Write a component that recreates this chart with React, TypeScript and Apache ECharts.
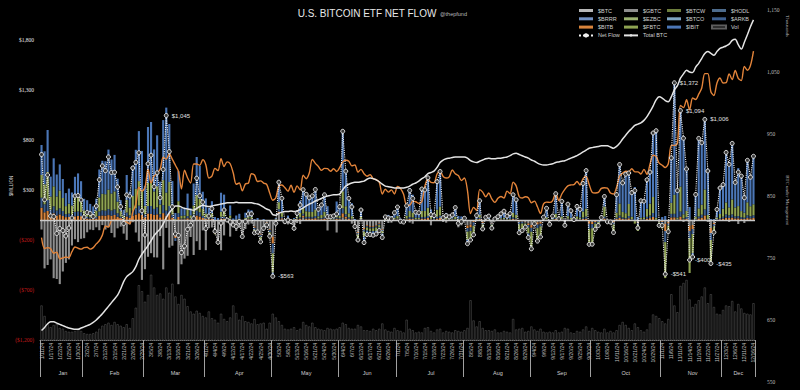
import React, { useEffect, useRef } from 'react';
import * as echarts from 'echarts';

// ---------- categories ----------
const MONTH_NAMES = ['Jan', 'Feb', 'Mar', 'Apr', 'May', 'Jun', 'Jul', 'Aug', 'Sep', 'Oct', 'Nov', 'Dec'];
const MONTH_DAYS: number[][] = [
  [11, 12, 16, 17, 18, 19, 22, 23, 24, 25, 26, 29, 30, 31],
  [1, 2, 5, 6, 7, 8, 9, 12, 13, 14, 15, 16, 20, 21, 22, 23, 26, 27, 28, 29],
  [1, 4, 5, 6, 7, 8, 11, 12, 13, 14, 15, 18, 19, 20, 21, 22, 25, 26, 27, 28],
  [1, 2, 3, 4, 5, 8, 9, 10, 11, 12, 15, 16, 17, 18, 19, 22, 23, 24, 25, 26, 29, 30],
  [1, 2, 3, 6, 7, 8, 9, 10, 13, 14, 15, 16, 17, 20, 21, 22, 23, 24, 28, 29, 30, 31],
  [3, 4, 5, 6, 7, 10, 11, 12, 13, 14, 17, 18, 20, 21, 24, 25, 26, 27, 28],
  [1, 2, 3, 5, 8, 9, 10, 11, 12, 15, 16, 17, 18, 19, 22, 23, 24, 25, 26, 29, 30, 31],
  [1, 2, 5, 6, 7, 8, 9, 12, 13, 14, 15, 16, 19, 20, 21, 22, 23, 26, 27, 28, 29, 30],
  [3, 4, 5, 6, 9, 10, 11, 12, 13, 16, 17, 18, 19, 20, 23, 24, 25, 26, 27, 30],
  [1, 2, 3, 4, 7, 8, 9, 10, 11, 14, 15, 16, 17, 18, 21, 22, 23, 24, 25, 28, 29, 30, 31],
  [1, 4, 5, 6, 7, 8, 11, 12, 13, 14, 15, 18, 19, 20, 21, 22, 25, 26, 27, 29],
  [2, 3, 4, 5, 6, 9, 10, 11, 12, 13, 16],
];

// ---------- series values ($M per day) ----------
const NET_FLOW = [
  655, 203, 450, 40, 35, -135, -85, -105, -160, -80, 20, 240, 245, 200,
  30, 75, 65, 35, 140, 403, 541, 493, 631, 475, 477, 330, 133, -35, 251, 240, 520, 577, 673, 92,
  -150, 562, 648, 333, 472, 223, 505, 1045, 684, 132, -140, -154, -326, -261, -94, -53, 15, 418, 243, 179,
  -86, 40, 113, -113, -223, -30, 100, 0, -20, -50, -65, -17, -165, -17, 60, 62, -128, -120, -218, -83, -50, -162,
  -563, -33, 378, 217, -17, 0, -17, -83, 67, 150, 303, 257, 222, 241, 305, 107, 150, 252, 33, 33, 40, 60,
  133, 887, 488, 217, 131, -65, -200, 100, -226, -145, -145, -152, -140, -106, -175, 31, 21, 12, 73,
  129, -13, -20, 143, 295, 216, 78, 73, 310, 301, 422, 53, 44, 383, 485, 22, 44, 31, 50, 124, -33, -17,
  17, -237, -200, -148, 45, 192, -89, 27, 39, -81, 11, 33, 62, 88, 39, 64, 252, 202, -127, -105, -71, -175,
  -288, -37, -211, -169, 28, 117, -43, 39, 263, 12, 187, -53, 158, 92, 4, 136, 106, 365, 494, -243,
  -242, -92, -55, 25, 235, -18, -20, -125, 253, 555, 371, 458, 470, 273, 294, -79, 192, 188, 402, 479, 870, 893, -54,
  -55, -541, -116, 621, 1372, 294, 1094, 817, 510, -400, -370, 255, 816, 773, 1006, 490, -435, -123, 105, 320,
  353, 676, 556, 766, 376, 479, 439, 223, 597, 428, 637,
];

const GBTC = [
  -95, -484, -450, -394, -582, -590, -641, -515, -429, -394, -255, -192, -221, -188,
  -182, -123, -96, -101, -73, -102, -51, -95, -73, -130, -174, -83, -66, -136, -199, -44, -22, -125, -216, -599,
  -492, -368, -332, -373, -375, -161, -494, -79, -276, -257, -139, -642, -443, -386, -358, -170, -350, -212, -299, -104,
  -302, -81, -75, -133, -200, -303, -154, -18, -166, -50, -110, -79, -130, -90, -45, -35, -66, -130, -139, -82, -25, -94,
  -167, -54, 63, 4, 0, -44, 0, -103, -30, -40, 27, 0, 0, 0, 0, 0, 0, 0, -105, 0, 0, -125,
  0, 28, 15, 0, -37, -40, -121, 0, -80, -52, -62, -62, -54, -34, -90, 0, -30, -27, 0,
  0, -28, 0, 0, -25, -37, 0, 0, 0, 0, 0, -53, 0, 0, 0, -20, -27, 0, 0, 0, -73, -53,
  0, -55, -47, 0, 0, 0, -18, 0, 0, -30, 0, 0, 0, 0, 0, 0, 0, 0, 0, 0, -20, -35,
  -50, 0, -23, -20, 0, 0, -10, 0, 0, 0, 0, -20, 0, 0, 0, 0, 0, 0, 0, -10,
  -20, -10, 0, 0, 0, 0, 0, -10, 0, -10, 0, 0, 0, 0, 0, -20, 0, 0, 0, 0, 0, 0, -10,
  -10, -40, -20, 0, 0, 0, 0, -20, 0, -60, -50, 0, 0, 0, 0, -20, -80, -30, 0, 0,
  0, 0, -20, 0, 0, -40, -10, -30, 0, -10, 0,
];

const IBIT = [
  300, 330, 420, 200, 280, 220, 260, 190, 130, 150, 130, 210, 230, 190,
  115, 110, 90, 75, 120, 280, 330, 330, 400, 340, 365, 230, 110, 55, 250, 160, 300, 390, 500, 390,
  200, 560, 600, 420, 510, 230, 600, 850, 580, 240, 60, 300, 75, 80, 160, 70, 220, 380, 330, 170,
  150, 80, 120, 30, 20, 190, 170, 20, 100, 15, 40, 50, 0, 50, 70, 65, 10, 20, 0, 10, 0, 0,
  -37, 10, 200, 140, -10, 30, -10, 10, 60, 120, 180, 170, 140, 160, 200, 70, 100, 170, 90, 20, 25, 120,
  90, 600, 350, 150, 130, 10, -20, 70, -60, -40, -30, -40, -30, -30, -40, 20, 35, 25, 50,
  90, 10, -10, 100, 230, 180, 55, 50, 220, 210, 300, 75, 30, 280, 350, 30, 50, 22, 35, 90, 28, 25,
  20, -40, -20, -20, 35, 140, -10, 20, 30, -10, 10, 25, 45, 65, 30, 50, 180, 150, -30, -20, -10, -40,
  -20, 0, -10, -20, 20, 90, 0, 30, 200, 10, 150, -5, 120, 70, 5, 100, 80, 280, 380, -10,
  -10, 0, 0, 20, 100, 0, 0, -10, 180, 400, 290, 390, 310, 240, 330, 30, 170, 160, 290, 315, 640, 870, 10,
  30, 40, 0, 450, 1120, 270, 760, 780, 420, 130, -40, 220, 700, 620, 700, 460, 10, 10, 80, 260,
  240, 500, 450, 560, 250, 380, 360, 180, 420, 300, 480,
];

const FBTC = [
  227, 200, 280, 130, 200, 140, 180, 130, 80, 100, 90, 140, 150, 120,
  60, 55, 45, 38, 60, 140, 165, 165, 195, 170, 180, 115, 55, 28, 125, 78, 150, 195, 245, 190,
  85, 230, 240, 175, 210, 95, 250, 180, 240, 95, 10, 120, 28, 30, 65, 30, 90, 155, 135, 70,
  40, 25, 40, -5, -25, 50, 50, 0, 30, -10, 5, 8, -20, 15, 20, 20, -40, -5, -50, -6, -15, -40,
  -191, 6, 70, 45, -5, 10, -5, 6, 22, 42, 60, 55, 50, 50, 65, 22, 30, 50, 30, 8, 10, 40,
  25, 170, 80, 40, 25, -20, -35, 20, -50, -30, -30, -30, -35, -25, -25, 7, 10, 8, 15,
  25, 3, -6, 28, 60, 48, 15, 15, 60, 60, 80, 20, 9, 70, 90, 8, 14, 6, 10, 24, 8, 7,
  -3, -80, -70, -70, 6, 30, -35, 4, 5, -25, 0, 5, 10, 14, 6, 9, 45, 35, -55, -50, -25, -60,
  -150, -25, -120, -85, 5, 18, -20, 6, 40, 2, 25, -18, 25, 15, 0, 25, 18, 60, 80, -145,
  -150, -55, -35, 3, 100, -12, -12, -70, 50, 120, 55, 50, 120, 25, -25, -60, 15, 20, 80, 120, 160, 20, -40,
  -50, -360, -60, 110, 190, 15, 250, 40, 60, -350, -190, 25, 80, 100, 200, 40, -245, -70, 15, 40,
  80, 120, 80, 150, 90, 100, 60, 50, 130, 100, 110,
];

const ARKB = [
  100, 80, 110, 50, 70, 50, 60, 50, 30, 34, 30, 45, 46, 40,
  20, 18, 14, 12, 18, 45, 52, 50, 60, 52, 56, 36, 18, 10, 40, 25, 50, 62, 76, 60,
  30, 75, 80, 60, 70, 32, 80, 50, 75, 30, -30, 38, 8, 8, 22, 9, 30, 50, 42, 23,
  14, 8, 15, 0, -10, 18, 20, -2, 10, -3, 0, 2, -10, 5, 8, 7, -20, -3, -20, -3, -5, -20,
  -99, 3, 25, 15, -1, 2, -1, 2, 8, 15, 20, 18, 17, 17, 22, 8, 11, 17, 10, 3, 3, 13,
  10, 50, 25, 15, 8, -8, -14, 5, -20, -13, -13, -12, -12, -10, -12, 2, 3, 3, 4,
  8, 1, -2, 8, 17, 14, 5, 4, 16, 17, 22, 6, 3, 18, 25, 2, 4, 2, 3, 6, 2, 2,
  0, -35, -35, -35, 2, 12, -15, 2, 2, -10, 1, 2, 4, 5, 2, 3, 15, 10, -25, -20, -10, -25,
  -40, -7, -35, -27, 2, 5, -8, 2, 13, 0, 7, -6, 8, 4, -1, 6, 5, 15, 20, -50,
  -40, -15, -12, 1, 20, -3, -5, -20, 13, 25, 14, 10, 23, 5, -6, -17, 4, 5, 18, 25, 40, 2, -8,
  -15, -110, -20, 35, 35, 5, 50, 10, 20, -70, -50, 6, 20, 30, 60, 6, -70, -20, 6, 12,
  18, 33, 26, 32, 20, 22, 17, 13, 28, 22, 27,
];

const BITB = [
  123, 77, 90, 54, 67, 45, 56, 40, 29, 30, 25, 37, 40, 38,
  17, 15, 12, 11, 15, 40, 45, 43, 49, 43, 50, 32, 16, 8, 35, 21, 42, 55, 68, 51,
  27, 65, 60, 51, 57, 27, 69, 44, 65, 24, -41, 30, 6, 7, 17, 8, 25, 45, 35, 20,
  12, 8, 13, -5, -8, 15, 14, 0, 6, -2, 0, 2, -5, 3, 7, 5, -12, -2, -9, -2, -5, -8,
  -69, 2, 20, 13, -1, 2, -1, 2, 7, 13, 16, 14, 15, 14, 18, 7, 9, 15, 8, 2, 2, 12,
  8, 39, 18, 12, 5, -7, -10, 5, -16, -10, -10, -8, -9, -7, -8, 2, 3, 3, 4,
  6, 1, -2, 7, 13, 11, 3, 4, 14, 14, 20, 5, 2, 15, 20, 2, 3, 1, 2, 4, 2, 2,
  0, -27, -28, -23, 2, 10, -11, 1, 2, -6, 0, 1, 3, 4, 1, 2, 12, 7, -17, -15, -6, -15,
  -28, -5, -23, -17, 1, 4, -5, 1, 10, 0, 5, -4, 5, 3, 0, 5, 3, 10, 14, -28,
  -22, -12, -8, 1, 15, -3, -3, -15, 10, 20, 12, 8, 17, 3, -5, -12, 3, 3, 14, 19, 30, 1, -6,
  -10, -71, -16, 26, 27, 4, 34, 7, 10, -50, -40, 4, 16, 23, 46, 4, -50, -13, 4, 8,
  15, 23, 20, 24, 16, 17, 12, 10, 19, 16, 20,
];

// small funds: too small to be visible in the picture
const BTC_MINI: number[] = [];
const BTCW: number[] = [];
const HODL: number[] = [];
const BRRR: number[] = [];
const EZBC: number[] = [];
const BTCO: number[] = [];

// trading volume ($B)
const VOLUME = [
  4.6, 3.2, 2.1, 1.7, 2.0, 2.1, 1.6, 1.5, 1.2, 1.1, 1.1, 1.2, 1.5, 1.2,
  0.9, 0.8, 0.8, 0.9, 1.1, 1.5, 1.9, 2.1, 2.3, 2.0, 2.4, 2.1, 1.9, 1.7, 2.1, 1.6, 2.9, 4.3, 7.3, 6.5,
  5.1, 6.0, 8.7, 7.0, 6.0, 6.2, 5.5, 7.0, 6.3, 7.5, 5.8, 4.8, 6.0, 5.5, 4.5, 3.8, 3.5, 3.9, 3.6, 3.2,
  3.0, 3.8, 2.9, 2.7, 2.3, 3.5, 2.8, 2.5, 3.0, 4.6, 3.6, 2.7, 3.2, 2.5, 2.4, 2.2, 2.8, 2.1, 2.2, 2.3, 1.5, 2.3,
  3.5, 3.0, 2.5, 2.0, 1.5, 1.4, 1.5, 1.7, 1.3, 1.5, 2.4, 2.0, 1.8, 2.3, 1.7, 1.5, 1.4, 1.3, 1.6, 1.5, 1.4, 1.5,
  1.7, 2.3, 2.1, 1.6, 1.5, 1.5, 2.0, 1.8, 1.3, 1.3, 1.2, 1.5, 1.3, 1.5, 2.2, 1.4, 1.2, 1.1, 1.6,
  1.3, 1.2, 1.0, 2.7, 1.5, 1.3, 1.0, 1.1, 1.0, 1.6, 1.7, 1.2, 1.0, 1.4, 1.5, 1.0, 1.2, 1.1, 1.0, 1.3, 1.2, 1.1,
  1.3, 1.6, 5.3, 2.6, 1.8, 2.5, 1.6, 1.3, 1.3, 1.2, 1.4, 1.0, 1.0, 1.2, 1.1, 1.0, 2.8, 1.4, 1.5, 1.6, 1.1, 1.2,
  1.8, 1.4, 1.2, 1.5, 1.1, 1.0, 1.1, 1.0, 1.3, 1.0, 1.1, 1.6, 1.5, 1.0, 0.9, 1.2, 1.1, 1.4, 1.8, 1.2,
  1.6, 1.3, 1.1, 1.0, 1.5, 1.0, 1.2, 1.0, 1.3, 2.0, 2.4, 2.0, 1.6, 1.3, 2.2, 1.7, 1.3, 1.1, 1.4, 2.2, 3.4, 3.2, 2.9,
  2.5, 2.2, 2.8, 6.1, 4.6, 3.7, 7.2, 7.6, 8.0, 5.4, 4.4, 4.8, 5.3, 5.8, 7.0, 4.9, 6.1, 4.4, 3.5, 3.4,
  4.0, 4.6, 4.5, 5.2, 3.8, 4.8, 4.2, 3.6, 3.5, 3.4, 4.9,
];

// BTC under management (thousands)
const TOTAL_BTC = [
  633, 638, 644, 647, 647, 645, 643, 641, 639, 637, 636, 635, 635, 637,
  639, 641, 643, 646, 650, 655, 660, 666, 672, 678, 684, 690, 700, 712, 720, 724, 728, 736, 748, 756,
  763, 770, 778, 786, 792, 797, 805, 815, 823, 829, 834, 834, 832, 830, 829, 828, 827, 830, 833, 835,
  834, 833, 834, 835, 836, 837, 838, 839, 839, 839, 840, 839, 839, 839, 839, 839, 838, 837, 835, 832, 829, 827,
  820, 819, 822, 824, 825, 825, 826, 825, 826, 828, 831, 834, 837, 839, 842, 844, 846, 849, 850, 851, 852, 852,
  853, 860, 866, 869, 871, 872, 872, 873, 874, 877, 879, 878, 876, 873, 869, 866, 865, 864, 863,
  863, 863, 863, 864, 866, 869, 871, 874, 878, 881, 886, 888, 890, 896, 904, 908, 910, 911, 912, 913, 913, 913,
  913, 911, 907, 905, 904, 906, 908, 910, 911, 910, 910, 911, 911, 912, 913, 915, 918, 919, 917, 915, 913, 911,
  908, 906, 903, 901, 900, 900, 901, 902, 904, 905, 906, 907, 909, 911, 913, 915, 918, 921, 924, 927,
  928, 929, 930, 931, 931, 931, 929, 927, 930, 935, 942, 948, 954, 959, 964, 966, 968, 972, 978, 986, 995, 1005, 1010,
  1008, 1004, 1002, 1010, 1021, 1028, 1040, 1047, 1053, 1050, 1049, 1058, 1064, 1072, 1080, 1083, 1080, 1077, 1083, 1088,
  1090, 1092, 1095, 1101, 1103, 1094, 1087, 1098, 1110, 1123, 1134,
];

// Bitcoin price ($K)
const BTC_PRICE = [
  46.3, 42.8, 43.1, 42.7, 41.3, 41.6, 39.5, 39.8, 40.1, 39.9, 41.8, 43.3, 42.9, 42.6,
  43.1, 43.2, 42.6, 43.1, 44.3, 45.3, 47.1, 50.0, 49.7, 51.8, 52.0, 52.1, 52.3, 51.8, 51.3, 50.7, 54.5, 57.1, 62.5, 61.2,
  62.4, 68.3, 63.8, 66.1, 66.9, 68.3, 72.1, 71.5, 73.1, 71.4, 69.5, 67.6, 61.9, 67.9, 65.5, 63.8, 69.9, 69.9, 69.5, 71.3,
  69.7, 65.4, 66.0, 68.5, 67.8, 71.6, 69.1, 70.6, 70.0, 67.1, 63.4, 63.8, 61.3, 63.5, 63.8, 66.8, 66.4, 64.3, 64.5, 63.8, 63.4, 60.6,
  58.3, 59.1, 62.9, 63.2, 62.3, 61.2, 63.1, 60.8, 62.9, 61.6, 66.3, 65.2, 67.0, 71.4, 70.1, 69.1, 67.9, 68.5, 68.4, 67.6, 68.4, 67.5,
  68.8, 70.6, 71.1, 70.8, 69.3, 69.6, 67.3, 68.2, 66.8, 66.0, 66.5, 65.2, 64.9, 64.1, 60.3, 61.8, 60.9, 61.6, 60.3,
  62.7, 62.0, 60.2, 56.7, 56.7, 58.0, 57.8, 57.3, 57.9, 62.9, 65.1, 64.0, 63.9, 66.7, 67.6, 65.9, 65.4, 65.8, 68.0, 66.8, 66.2, 64.6,
  65.4, 61.4, 54.0, 56.0, 55.0, 61.7, 60.9, 59.4, 60.6, 58.7, 57.6, 58.9, 59.5, 59.0, 61.2, 60.4, 64.1, 62.9, 59.5, 59.0, 59.4, 59.1,
  57.5, 58.0, 56.2, 54.0, 57.1, 57.7, 57.6, 58.2, 60.6, 58.2, 60.3, 61.8, 62.9, 63.2, 63.3, 64.3, 63.2, 65.2, 65.9, 63.3,
  60.8, 60.6, 60.8, 62.1, 62.3, 62.2, 60.6, 60.3, 62.4, 66.0, 67.0, 67.6, 67.4, 68.4, 67.4, 67.4, 66.7, 68.2, 66.6, 69.9, 72.7, 72.3, 70.2,
  69.5, 68.8, 70.0, 75.9, 75.9, 76.5, 88.7, 88.0, 90.5, 87.3, 91.1, 90.6, 92.3, 94.3, 98.9, 98.9, 93.1, 91.9, 95.9, 97.5,
  95.9, 96.0, 98.8, 97.0, 99.9, 97.4, 96.7, 101.2, 100.0, 101.5, 106.1,
];

// indices of net-flow points carrying a value label
const ANNOTATED = [41, 76, 205, 208, 210, 213, 218, 220];

const FONT = 'Liberation Sans';
const SERIF = 'Liberation Serif';

function fmtMoney(v: number): string {
  const s = Math.abs(v).toLocaleString('en-US');
  return v < 0 ? `-$${s}` : `$${s}`;
}

export default function App() {
  const ref = useRef<HTMLDivElement>(null);

  useEffect(() => {
    if (!ref.current) return;
    const chart = echarts.init(ref.current, null, { renderer: 'svg' });

    const dates: string[] = [];
    const monthStart: number[] = [];
    const monthMid: number[] = [];
    MONTH_DAYS.forEach((days, m) => {
      monthStart.push(dates.length);
      monthMid.push(dates.length + Math.floor(days.length / 2));
      days.forEach((d) => dates.push(`${m + 1}/${d}/24`));
    });

    const netData = NET_FLOW.map((v, i) =>
      ANNOTATED.includes(i)
        ? {
            value: v,
            label: {
              show: true,
              position: 'right',
              distance: 3,
              formatter: () => fmtMoney(v),
              color: '#e0e0e0',
              fontSize: 6,
              fontFamily: FONT,
            },
          }
        : v
    );

    const barBase = (name: string, data: number[], color: string) => ({
      name,
      type: 'bar',
      stack: 'flow',
      xAxisIndex: 0,
      yAxisIndex: 0,
      data,
      itemStyle: { color },
      barCategoryGap: '30%',
      z: 2,
    });

    const legendCommon = {
      orient: 'vertical',
      top: 7.5,
      itemWidth: 14,
      itemHeight: 3,
      itemGap: 2.3,
      selectedMode: false,
      padding: 0,
      textStyle: { color: '#cfcfcf', fontSize: 5.5, fontFamily: FONT, lineHeight: 6 },
    };

    const option: any = {
      animation: false,
      backgroundColor: '#000',
      textStyle: { fontFamily: FONT },
      legend: [
        { ...legendCommon, left: 578, data: [{ name: '$BTC', icon: 'rect' }, { name: '$BRRR', icon: 'rect' }, { name: '$BITB', icon: 'rect' }, { name: 'Net Flow' }] },
        { ...legendCommon, left: 623, data: [{ name: '$GBTC', icon: 'rect' }, { name: '$EZBC', icon: 'rect' }, { name: '$FBTC', icon: 'rect' }, { name: 'Total BTC' }] },
        { ...legendCommon, left: 667, data: [{ name: '$BTCW', icon: 'rect' }, { name: '$BTCO', icon: 'rect' }, { name: '$IBIT', icon: 'rect' }] },
        { ...legendCommon, left: 711, data: [{ name: '$HODL', icon: 'rect' }, { name: '$ARKB', icon: 'rect' }, { name: 'Vol', icon: 'rect' }] },
      ],
      grid: [
        { left: 40, right: 45, top: 40, height: 300 },
        { left: 40, right: 45, top: 10, height: 372 },
      ],
      xAxis: [
        {
          type: 'category',
          gridIndex: 0,
          data: dates,
          boundaryGap: true,
          axisLine: { onZero: false, lineStyle: { color: '#777', type: 'dotted', width: 1 } },
          axisTick: { show: false },
          splitLine: { show: false },
          axisLabel: {
            interval: 2,
            rotate: 90,
            fontSize: 5,
            color: '#bdbdbd',
            margin: 3,
            fontFamily: FONT,
          },
        },
        {
          type: 'category',
          gridIndex: 0,
          data: dates,
          boundaryGap: true,
          position: 'bottom',
          axisLine: { show: false, onZero: false },
          axisTick: {
            show: true,
            length: 37,
            interval: (index: number) => monthStart.includes(index),
            lineStyle: { color: '#a0a0a0', width: 1 },
          },
          splitLine: { show: false },
          axisLabel: {
            interval: (index: number) => monthMid.includes(index),
            formatter: (value: string) => MONTH_NAMES[parseInt(value.split('/')[0], 10) - 1],
            fontSize: 5.5,
            color: '#cfcfcf',
            margin: 30,
            fontFamily: FONT,
          },
        },
        {
          type: 'category',
          gridIndex: 1,
          data: dates,
          boundaryGap: true,
          show: false,
        },
      ],
      yAxis: [
        {
          type: 'value',
          gridIndex: 0,
          min: -1200,
          max: 1800,
          interval: 500,
          axisLine: { show: false },
          axisTick: { show: false },
          splitLine: { show: false },
          axisLabel: {
            margin: 6,
            fontSize: 5.5,
            fontFamily: SERIF,
            color: (v: any) => (Number(v) < 0 ? '#c41a1a' : '#e6e6e6'),
            formatter: (v: number) =>
              v < 0 ? `($${Math.abs(v).toLocaleString('en-US')})` : `$${v.toLocaleString('en-US')}`,
          },
        },
        { type: 'value', gridIndex: 0, min: 0, max: 40, show: false },
        {
          type: 'value',
          gridIndex: 1,
          position: 'right',
          min: 550,
          max: 1150,
          interval: 100,
          axisLine: { show: false },
          axisTick: { show: false },
          splitLine: { show: false },
          axisLabel: {
            margin: 12,
            fontSize: 5.5,
            fontFamily: SERIF,
            color: '#bdbdbd',
            formatter: (v: number) => v.toLocaleString('en-US'),
          },
        },
        { type: 'value', gridIndex: 1, min: 0, max: 119.3, show: false },
      ],
      graphic: [
        {
          type: 'text',
          x: 367,
          y: 13,
          style: {
            text: 'U.S. BITCOIN ETF NET FLOW',
            fill: '#e8e8e8',
            fontSize: 10,
            fontFamily: FONT,
            align: 'center',
            verticalAlign: 'middle',
          },
        },
        {
          type: 'text',
          x: 440,
          y: 14,
          style: { text: '@thepfund', fill: '#bdbdbd', fontSize: 5.5, fontFamily: FONT, align: 'left', verticalAlign: 'middle' },
        },
        {
          type: 'text',
          x: 11,
          y: 186,
          rotation: Math.PI / 2,
          style: { text: '$MILLION', fill: '#d0d0d0', fontSize: 4.5, fontFamily: FONT, align: 'center', verticalAlign: 'middle' },
        },
        {
          type: 'text',
          x: 787,
          y: 26,
          rotation: -Math.PI / 2,
          style: { text: 'Thousands', fill: '#bdbdbd', fontSize: 5, fontFamily: SERIF, align: 'center', verticalAlign: 'middle' },
        },
        {
          type: 'text',
          x: 787,
          y: 200,
          rotation: -Math.PI / 2,
          style: { text: 'BTC under Management', fill: '#bdbdbd', fontSize: 5, fontFamily: SERIF, align: 'center', verticalAlign: 'middle' },
        },
      ],
      series: [
        {
          name: 'Vol',
          type: 'bar',
          xAxisIndex: 1,
          yAxisIndex: 1,
          data: VOLUME,
          barCategoryGap: '30%',
          itemStyle: { color: '#000', borderColor: '#5e5e5e', borderWidth: 0.5 },
          z: 1,
        },
        barBase('$GBTC', GBTC, '#8e8e8e'),
        barBase('$BITB', BITB, '#d9843c'),
        barBase('$ARKB', ARKB, '#3d5f8f'),
        barBase('$FBTC', FBTC, '#8fa452'),
        barBase('$IBIT', IBIT, '#4b76b6'),
        barBase('$BTC', BTC_MINI, '#b8b8b8'),
        barBase('$BTCW', BTCW, '#6d7e3c'),
        barBase('$HODL', HODL, '#4d6b8c'),
        barBase('$BRRR', BRRR, '#7391c2'),
        barBase('$EZBC', EZBC, '#9ab070'),
        barBase('$BTCO', BTCO, '#80a6c2'),
        {
          name: 'Total BTC',
          type: 'line',
          xAxisIndex: 2,
          yAxisIndex: 2,
          data: TOTAL_BTC,
          smooth: 0.3,
          showSymbol: false,
          symbol: 'none',
          lineStyle: { color: '#e4e4e4', width: 1.5 },
          itemStyle: { color: '#e4e4e4' },
          z: 4,
        },
        {
          name: 'BTC Price',
          type: 'line',
          xAxisIndex: 2,
          yAxisIndex: 3,
          data: BTC_PRICE,
          smooth: 0.3,
          showSymbol: false,
          symbol: 'none',
          lineStyle: { color: '#e3843a', width: 1.4 },
          itemStyle: { color: '#e3843a' },
          z: 3,
        },
        {
          name: 'Net Flow',
          type: 'line',
          xAxisIndex: 0,
          yAxisIndex: 0,
          data: netData,
          symbol: 'circle',
          symbolSize: 4,
          showSymbol: true,
          showAllSymbol: true,
          lineStyle: { color: '#f2f2f2', width: 1.1, type: 'dotted' },
          itemStyle: { color: '#3a3a3a', borderColor: '#f2f2f2', borderWidth: 0.9 },
          labelLayout: { hideOverlap: false },
          z: 6,
          markLine: {
            silent: true,
            symbol: ['none', 'none'],
            label: { show: false },
            lineStyle: { color: '#c8c8c8', width: 1.3, type: 'solid' },
            data: [{ yAxis: 0 }],
            z: 5,
          },
        },
      ],
    };

    chart.setOption(option);
    return () => chart.dispose();
  }, []);

  return (
    <div
      ref={ref}
      style={{ position: 'fixed', left: 0, top: 0, width: 800, height: 390, background: '#000' }}
    />
  );
}
